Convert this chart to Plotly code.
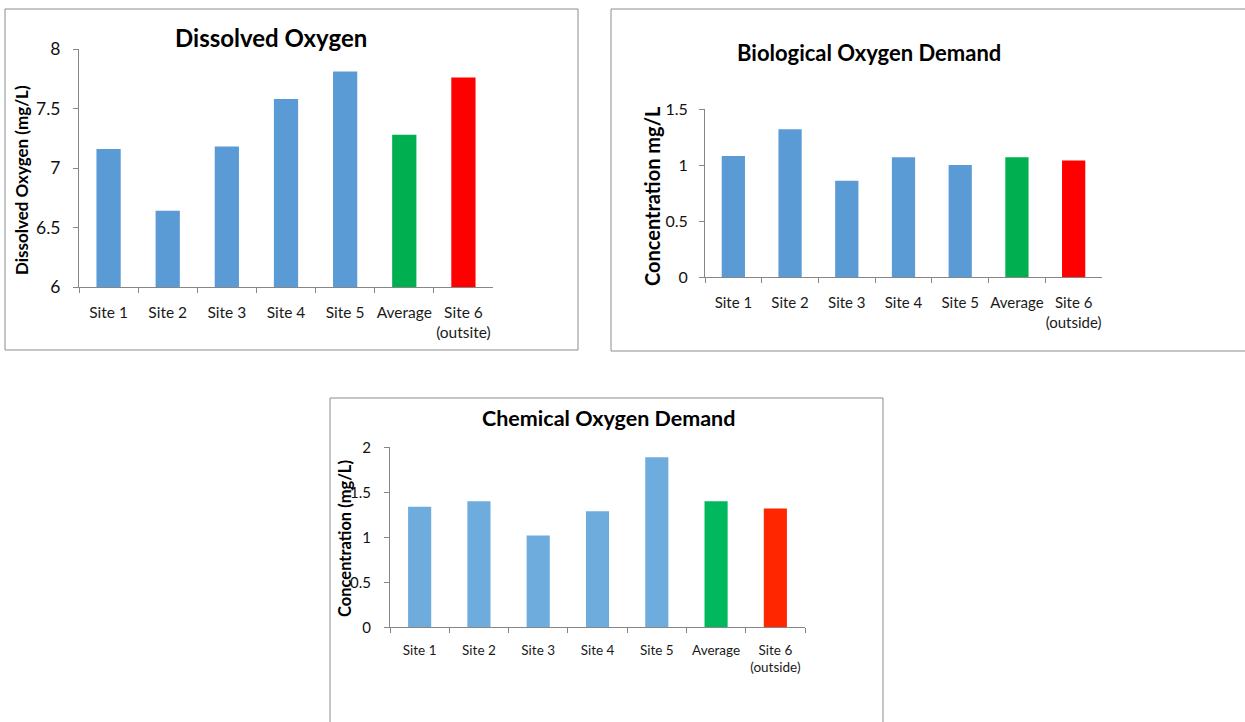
import plotly.graph_objects as go

W, H = 1245, 722

# Categories shared by the three charts
do_labels = ["Site 1", "Site 2", "Site 3", "Site 4", "Site 5", "Average", "Site 6<br>(outsite)"]
od_labels = ["Site 1", "Site 2", "Site 3", "Site 4", "Site 5", "Average", "Site 6<br>(outside)"]

# Measured values (mg/L)
dissolved_oxygen = [7.16, 6.64, 7.18, 7.58, 7.81, 7.28, 7.76]
bod_values = [1.08, 1.32, 0.86, 1.07, 1.00, 1.07, 1.04]
cod_values = [1.34, 1.40, 1.02, 1.29, 1.89, 1.40, 1.32]

# Tick values per chart
do_ticks = [6, 6.5, 7, 7.5, 8]
bod_ticks = [0, 0.5, 1, 1.5]
cod_ticks = [0, 0.5, 1, 1.5, 2]

BLUE = "#5B9BD5"
GREEN = "#00B050"
RED = "#FF0000"
BLUE3 = "#6DACDC"
GREEN3 = "#00B85E"
RED3 = "#FF2600"

FONT = "Lato, 'Open Sans', sans-serif"
AXIS_GREY = "#868686"
BOX_GREY = "#8C8C8C"


def px_x(v):
    return v / W


def px_y(v):
    return 1 - v / H


fig = go.Figure()

fig.add_trace(go.Bar(x=do_labels, y=dissolved_oxygen, xaxis="x", yaxis="y", width=0.41,
                     marker=dict(color=[BLUE] * 5 + [GREEN, RED], line=dict(width=0)),
                     showlegend=False))
fig.add_trace(go.Bar(x=od_labels, y=bod_values, xaxis="x2", yaxis="y2", width=0.41,
                     marker=dict(color=[BLUE] * 5 + [GREEN, RED], line=dict(width=0)),
                     showlegend=False))
fig.add_trace(go.Bar(x=od_labels, y=cod_values, xaxis="x3", yaxis="y3", width=0.39,
                     marker=dict(color=[BLUE3] * 5 + [GREEN3, RED3], line=dict(width=0)),
                     showlegend=False))


def xaxis(domain, anchor, size, standoff):
    return dict(domain=domain, anchor=anchor, type="category", tickangle=0, automargin=False,
                showline=True, linecolor=AXIS_GREY, linewidth=1,
                ticks="outside", tickson="boundaries", ticklen=5, tickcolor=AXIS_GREY,
                ticklabelstandoff=standoff,
                showgrid=False, zeroline=False,
                tickfont=dict(family=FONT, size=size, color="#1a1a1a"), fixedrange=True)


def yaxis(domain, anchor, rng, ticks, size, standoff):
    return dict(domain=domain, anchor=anchor, range=rng, tickvals=ticks, automargin=False,
                showline=True, linecolor=AXIS_GREY, linewidth=1,
                ticks="outside", ticklen=5, tickcolor=AXIS_GREY,
                ticklabelstandoff=standoff,
                showgrid=False, zeroline=False,
                tickfont=dict(family=FONT, size=size, color="#111"), fixedrange=True)


fig.update_layout(
    width=W, height=H,
    margin=dict(l=0, r=0, t=0, b=0, autoexpand=False),
    paper_bgcolor="white", plot_bgcolor="white",
    xaxis=xaxis([px_x(79), px_x(493)], "y", 15.5, 11),
    yaxis=yaxis([px_y(287), px_y(49)], "x", [6, 8], do_ticks, 17.5, 9),
    xaxis2=xaxis([px_x(705), px_x(1102)], "y2", 15, 12),
    yaxis2=yaxis([px_y(277), px_y(109)], "x2", [0, 1.5], bod_ticks, 16, 8),
    xaxis3=xaxis([px_x(390), px_x(805)], "y3", 13.5, 10),
    yaxis3=yaxis([px_y(627.3), px_y(447.3)], "x3", [0, 2], cod_ticks, 15, 10),
)

# Chart frames
frames = [(5, 9, 578, 350), (611, 9, 1260, 351), (330, 398, 883, 740)]
for x0, y0, x1, y1 in frames:
    fig.add_shape(type="rect", xref="paper", yref="paper",
                  x0=px_x(x0), x1=px_x(x1), y0=px_y(y1), y1=px_y(y0),
                  line=dict(color=BOX_GREY, width=1), fillcolor="rgba(0,0,0,0)", layer="below")

# Chart titles
titles = [("Dissolved Oxygen", 271, 38, 24),
          ("Biological Oxygen Demand", 869, 53, 22),
          ("Chemical Oxygen Demand", 608, 418, 21.5)]
for text, cx, cy, size in titles:
    fig.add_annotation(xref="paper", yref="paper", x=px_x(cx), y=px_y(cy),
                       text="<b>%s</b>" % text, showarrow=False,
                       xanchor="center", yanchor="middle",
                       font=dict(family=FONT, size=size, color="#000"))

# Vertical axis titles
ytitles = [("Dissolved Oxygen (mg/L)", 21, 180, 17),
           ("Concentration mg/L", 652, 196, 20),
           ("Concentration (mg/L)", 345, 539, 16.5)]
for text, cx, cy, size in ytitles:
    fig.add_annotation(xref="paper", yref="paper", x=px_x(cx), y=px_y(cy),
                       text="<b>%s</b>" % text, showarrow=False, textangle=-90,
                       xanchor="center", yanchor="middle",
                       font=dict(family=FONT, size=size, color="#000"))

# Pin the graph to the top-left corner of the page with no scrolling
page_css = (
    "document.documentElement.style.margin='0';"
    "document.documentElement.style.overflow='hidden';"
    "document.body.style.margin='0';"
    "document.body.style.overflow='hidden';"
    "document.body.style.height='%dpx';"
    "var d=document.getElementById('{plot_id}');"
    "d.style.position='fixed';d.style.top='0';d.style.left='0';"
) % H

fig.write_html("out.html", post_script=page_css)
